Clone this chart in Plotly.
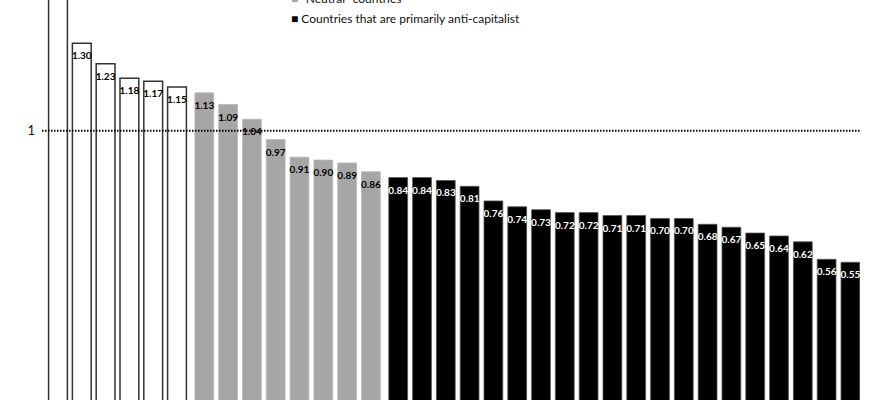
import plotly.graph_objects as go

# Values (first bar is cut off at the top; estimated)
pro_values = [1.55, 1.30, 1.23, 1.18, 1.17, 1.15]
neutral_values = [1.13, 1.09, 1.04, 0.97, 0.91, 0.90, 0.89, 0.86]
anti_values = [0.84, 0.84, 0.83, 0.81, 0.76, 0.74, 0.73, 0.72, 0.72, 0.71,
               0.71, 0.70, 0.70, 0.68, 0.67, 0.65, 0.64, 0.62, 0.56, 0.55]

legend_labels = ["Countries that are primarily pro-capitalist",
                 "\"Neutral\" countries",
                 "Countries that are primarily anti-capitalist"]
reference_value = 1

FONT = "Lato, 'Open Sans', sans-serif"
GROUP_GAP = 0.147

n1, n2 = len(pro_values), len(neutral_values)
x_pro = [i for i in range(n1)]
x_neu = [n1 + i + GROUP_GAP for i in range(n2)]
x_anti = [n1 + n2 + i + 2 * GROUP_GAP for i in range(len(anti_values))]

groups = [
    (x_pro, pro_values, legend_labels[0], "white", dict(color="#333333", width=1.5), "black"),
    (x_neu, neutral_values, legend_labels[1], "#a6a6a6", dict(color="#b8b8b8", width=0.8), "black"),
    (x_anti, anti_values, legend_labels[2], "black", dict(color="#555555", width=0.8), "white"),
]

fig = go.Figure()
for xs, ys, name, fill, line, tcol in groups:
    fig.add_trace(go.Bar(x=xs, y=ys, name=name, width=0.79,
                         marker=dict(color=fill, line=line),
                         showlegend=False, hoverinfo="skip"))
for xs, ys, name, fill, line, tcol in groups:
    fig.add_trace(go.Scatter(x=xs, y=ys, mode="markers+text",
                             text=[f"{v:.2f}" for v in ys],
                             textposition="bottom center",
                             marker=dict(size=12, opacity=0, color=fill),
                             textfont=dict(family=FONT, size=10, color=tcol, weight="bold"),
                             cliponaxis=True, showlegend=False, hoverinfo="skip"))

fig.add_shape(type="line", xref="paper", yref="y", x0=0, x1=1,
              y0=reference_value, y1=reference_value,
              line=dict(color="black", width=2, dash="1.5px,1.5px"), layer="above")

legend_colors = ["white", "#a6a6a6", "black"]
legend_symbols = ["\u25a1", "\u25a0", "\u25a0"]
legend_y = [1.055, 1.005, 0.955]
for lab, col, sym, yy in zip(legend_labels, legend_colors, legend_symbols, legend_y):
    symcol = "black" if col == "white" else col
    fig.add_annotation(xref="paper", yref="paper", x=0.3015, y=yy,
                       xanchor="left", yanchor="middle", showarrow=False,
                       text=f"<span style='color:{symcol}'>{sym}</span> {lab}",
                       font=dict(family=FONT, size=12, color="#111111"))

fig.update_layout(
    width=883, height=400,
    margin=dict(l=42, r=23, t=0, b=0, autoexpand=False),
    paper_bgcolor="white", plot_bgcolor="white",
    hovermode=False,
    xaxis=dict(range=[-0.672, 33.697], visible=False, fixedrange=True),
    yaxis=dict(range=[0.0784, 1.448], tickvals=[reference_value], ticktext=["1"],
               showgrid=False, zeroline=False, showline=False, ticks="",
               ticklabelstandoff=6, fixedrange=True,
               tickfont=dict(family=FONT, size=13, color="#111111")),
)

fig.write_html("out.html", config={"displayModeBar": False},
               post_script="document.body.style.margin='0';")
